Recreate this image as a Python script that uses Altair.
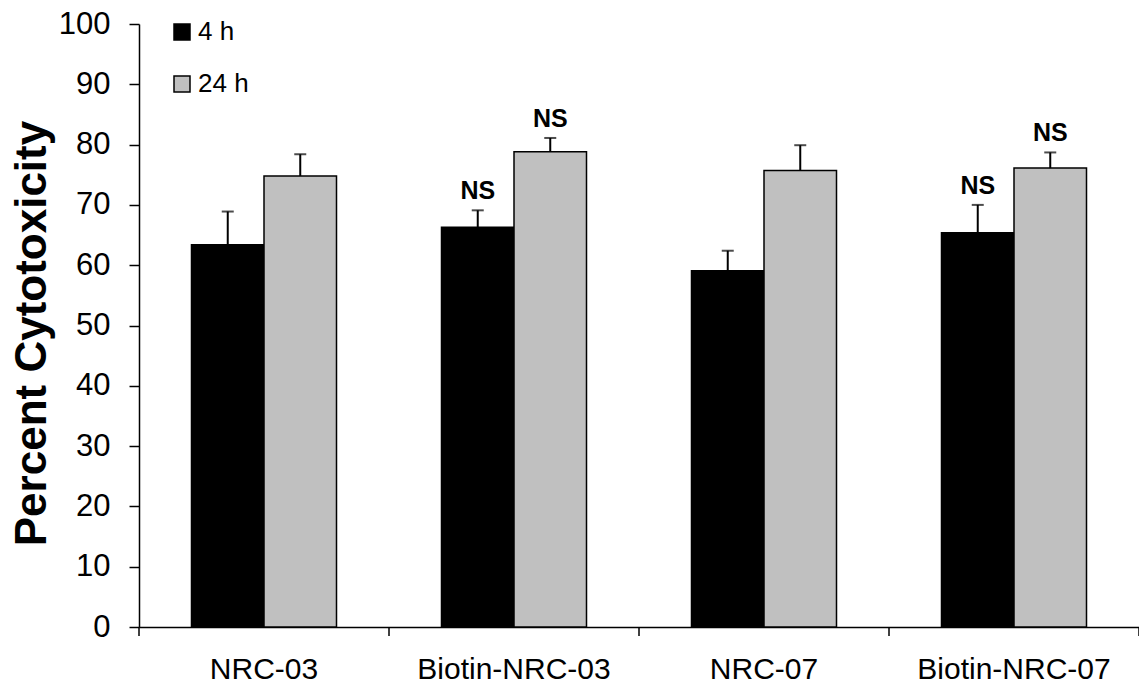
import altair as alt
import pandas as pd

categories = ["NRC-03", "Biotin-NRC-03", "NRC-07", "Biotin-NRC-07"]
series = ["4 h", "24 h"]
values_4h = [63.4, 66.3, 59.1, 65.4]
errors_4h = [5.5, 2.8, 3.3, 4.6]
values_24h = [74.8, 78.8, 75.7, 76.1]
errors_24h = [3.6, 2.3, 4.2, 2.6]
labels_4h = ["", "NS", "", "NS"]
labels_24h = ["", "NS", "", "NS"]
colors = ["#000000", "#c0c0c0"]

rows = []
for i, c in enumerate(categories):
    rows.append(dict(cat=c, series="4 h", value=values_4h[i], top=values_4h[i] + errors_4h[i], label=labels_4h[i]))
    rows.append(dict(cat=c, series="24 h", value=values_24h[i], top=values_24h[i] + errors_24h[i], label=labels_24h[i]))
df = pd.DataFrame(rows)
cat_df = pd.DataFrame({"cat": categories})

FONT = "Liberation Sans"
PLOT_H = 603

x_enc = alt.X("cat:N", sort=categories, scale=alt.Scale(paddingInner=0, paddingOuter=0),
              axis=alt.Axis(title=None, ticks=False, labelFontSize=30, labelPadding=27,
                            labelLimit=500, labelColor="black", domainColor="black",
                            domainWidth=1.5, labelFont=FONT, labelAngle=0))
xo = alt.XOffset("series:N", sort=series, scale=alt.Scale(paddingInner=0, paddingOuter=0.724))
y_scale = alt.Scale(domain=[0, 100], nice=False)

bars = alt.Chart(df).mark_bar(stroke="black", strokeWidth=1.5).encode(
    x=x_enc,
    xOffset=xo,
    y=alt.Y("value:Q", scale=y_scale,
            axis=alt.Axis(title="Percent Cytotoxicity", values=list(range(0, 101, 10)),
                          grid=False, tickSize=10, tickColor="black", tickWidth=1.5,
                          domainColor="black", domainWidth=1.5, labelFontSize=31,
                          labelPadding=19, labelColor="black", labelFont=FONT,
                          titleFont=FONT, titleFontSize=44, titleFontWeight="bold",
                          titleColor="black", titlePadding=4, titleY=309)),
    color=alt.Color("series:N", sort=series,
                    scale=alt.Scale(domain=series, range=colors),
                    legend=alt.Legend(title=None, orient="none", legendX=30, legendY=-5,
                                      symbolType="square", symbolSize=256,
                                      symbolStrokeColor="black", symbolStrokeWidth=1.5,
                                      labelFontSize=26, labelFont=FONT, labelColor="black",
                                      labelOffset=3, rowPadding=26, padding=0)),
)

err_rule = alt.Chart(df).mark_rule(color="black", strokeWidth=2).encode(
    x=alt.X("cat:N", sort=categories),
    xOffset=xo,
    y=alt.Y("value:Q", scale=y_scale),
    y2="top:Q",
)
err_cap = alt.Chart(df).mark_tick(color="black", thickness=2, size=12).encode(
    x=alt.X("cat:N", sort=categories),
    xOffset=xo,
    y=alt.Y("top:Q", scale=y_scale),
)
ns_text = alt.Chart(df).mark_text(font=FONT, fontSize=25, fontWeight="bold", baseline="bottom",
                                  dy=-6, color="black").encode(
    x=alt.X("cat:N", sort=categories),
    xOffset=xo,
    y=alt.Y("top:Q", scale=y_scale),
    text="label:N",
)
ticks0 = alt.Chart(cat_df).mark_rule(color="black", strokeWidth=1.5).encode(
    x=alt.X("cat:N", sort=categories, bandPosition=0),
    y=alt.value(PLOT_H), y2=alt.value(PLOT_H + 9),
)
ticks1 = alt.Chart(cat_df).transform_filter(alt.datum.cat == categories[-1]).mark_rule(
    color="black", strokeWidth=1.5).encode(
    x=alt.X("cat:N", sort=categories, bandPosition=1),
    y=alt.value(PLOT_H), y2=alt.value(PLOT_H + 9),
)

chart = alt.layer(bars, err_rule, err_cap, ns_text, ticks0, ticks1).properties(
    width=1000, height=PLOT_H,
    autosize=alt.AutoSizeParams(type="none"),
    padding={"left": 131, "top": 16, "right": 0, "bottom": 57},
).configure_view(stroke=None)

chart.save("out.html", embed_options={"renderer": "svg", "actions": False})
